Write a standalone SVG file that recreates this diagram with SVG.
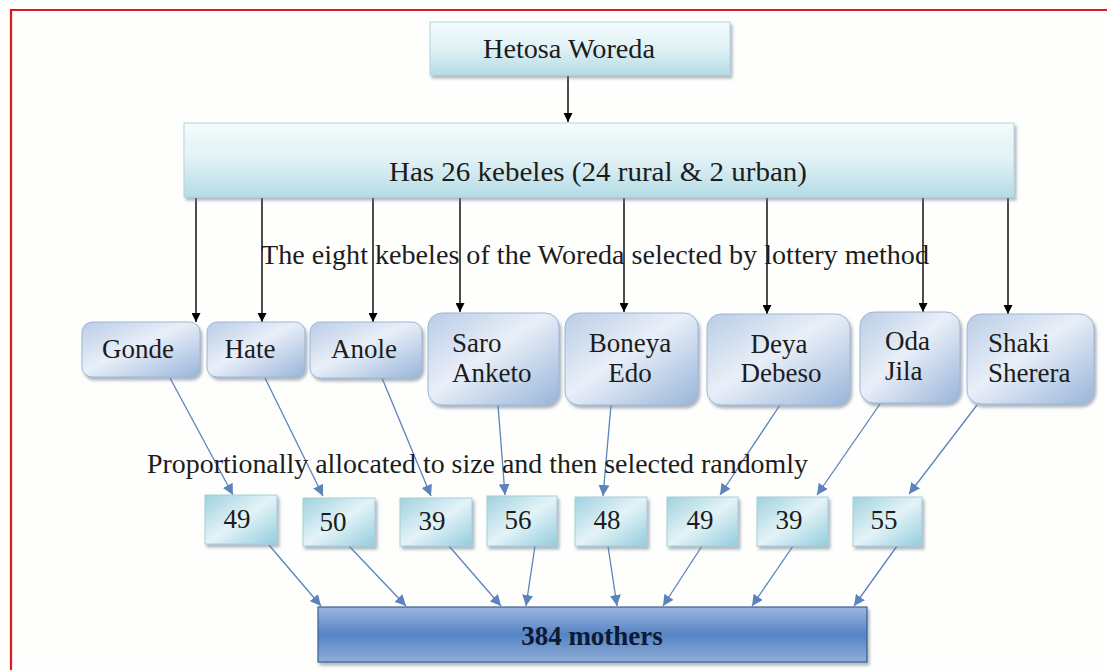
<svg xmlns="http://www.w3.org/2000/svg" width="1107" height="670" viewBox="0 0 1107 670">
<defs>
<style>
text{font-family:"Liberation Serif","Times New Roman",serif;font-size:27px;fill:#1c1c1c}
.c{text-anchor:middle}
.blk{stroke:#000;stroke-width:1.4;fill:none}
.blu{stroke:#5b83bd;stroke-width:1.3;fill:none}
.kb{fill:url(#gK);stroke:#9fb6d6;stroke-width:1;filter:url(#sh)}
.nb{fill:url(#gN);stroke:#a9cdd8;stroke-width:1;filter:url(#sh)}
.tb{fill:url(#gT);stroke:#b5d6df;stroke-width:1;filter:url(#sh)}
</style>
<linearGradient id="gT" x1="0" y1="0" x2="0" y2="1">
<stop offset="0" stop-color="#f4fbfc"/><stop offset="0.5" stop-color="#e0f1f5"/><stop offset="1" stop-color="#b4dce6"/>
</linearGradient>
<linearGradient id="gK" x1="0" y1="0" x2="1" y2="1">
<stop offset="0" stop-color="#b9cce6"/><stop offset="0.45" stop-color="#e9eff8"/><stop offset="1" stop-color="#98b5da"/>
</linearGradient>
<linearGradient id="gN" x1="0" y1="0" x2="1" y2="1">
<stop offset="0" stop-color="#9fd1df"/><stop offset="0.5" stop-color="#e4f3f7"/><stop offset="1" stop-color="#92cddd"/>
</linearGradient>
<linearGradient id="gM" x1="0" y1="0" x2="0" y2="1">
<stop offset="0" stop-color="#9ab6de"/><stop offset="0.5" stop-color="#5684c4"/><stop offset="1" stop-color="#8fadd9"/>
</linearGradient>
<filter id="sh" x="-10%" y="-10%" width="130%" height="140%">
<feDropShadow dx="2" dy="3" stdDeviation="1.5" flood-color="#6d7d92" flood-opacity="0.55"/>
</filter>
<marker id="aK" viewBox="0 0 10 10" refX="10" refY="5" markerWidth="9" markerHeight="9" markerUnits="userSpaceOnUse" orient="auto">
<path d="M0,0 L10,5 L0,10 z" fill="#000"/>
</marker>
<marker id="aB" viewBox="0 0 10 10" refX="10" refY="5" markerWidth="11" markerHeight="11" markerUnits="userSpaceOnUse" orient="auto">
<path d="M0,0 L10,5 L0,10 z" fill="#5b83bd"/>
</marker>
</defs>
<rect width="1107" height="670" fill="#fefefc"/>
<path d="M11,670 V10 H1107" stroke="#e3161c" stroke-width="2.2" fill="none"/>

<g id="connectors">
<line class="blk" x1="568" y1="76" x2="568" y2="122" marker-end="url(#aK)"/>
<line class="blk" x1="196" y1="198" x2="196" y2="322" marker-end="url(#aK)"/>
<line class="blk" x1="262" y1="198" x2="262" y2="322" marker-end="url(#aK)"/>
<line class="blk" x1="373" y1="198" x2="373" y2="322" marker-end="url(#aK)"/>
<line class="blk" x1="460" y1="198" x2="460" y2="312" marker-end="url(#aK)"/>
<line class="blk" x1="624" y1="198" x2="624" y2="312" marker-end="url(#aK)"/>
<line class="blk" x1="767" y1="198" x2="767" y2="314" marker-end="url(#aK)"/>
<line class="blk" x1="923" y1="198" x2="923" y2="312" marker-end="url(#aK)"/>
<line class="blk" x1="1008" y1="198" x2="1008" y2="314" marker-end="url(#aK)"/>

<line class="blu" x1="170" y1="378" x2="233" y2="495" marker-end="url(#aB)"/>
<line class="blu" x1="265" y1="378" x2="323" y2="496" marker-end="url(#aB)"/>
<line class="blu" x1="382" y1="378" x2="431" y2="496" marker-end="url(#aB)"/>
<line class="blu" x1="498" y1="405" x2="505" y2="495" marker-end="url(#aB)"/>
<line class="blu" x1="611" y1="405" x2="603" y2="496" marker-end="url(#aB)"/>
<line class="blu" x1="780" y1="405" x2="720" y2="495" marker-end="url(#aB)"/>
<line class="blu" x1="880" y1="404" x2="817" y2="495" marker-end="url(#aB)"/>
<line class="blu" x1="977" y1="405" x2="909" y2="494" marker-end="url(#aB)"/>

<line class="blu" x1="269" y1="545" x2="321" y2="606" marker-end="url(#aB)"/>
<line class="blu" x1="349" y1="546" x2="406" y2="606" marker-end="url(#aB)"/>
<line class="blu" x1="449" y1="546" x2="501" y2="606" marker-end="url(#aB)"/>
<line class="blu" x1="535" y1="546" x2="526" y2="606" marker-end="url(#aB)"/>
<line class="blu" x1="608" y1="546" x2="617" y2="606" marker-end="url(#aB)"/>
<line class="blu" x1="702" y1="546" x2="663" y2="606" marker-end="url(#aB)"/>
<line class="blu" x1="793" y1="546" x2="752" y2="606" marker-end="url(#aB)"/>
<line class="blu" x1="897" y1="546" x2="854" y2="606" marker-end="url(#aB)"/>
</g>

<g id="hetosa">
<rect class="tb" x="430" y="22" width="300" height="53"/>
<text class="c" x="569" y="58" textLength="172" lengthAdjust="spacingAndGlyphs">Hetosa Woreda</text>
</g>
<g id="kebeles">
<rect class="tb" x="184" y="123" width="830" height="74"/>
<text class="c" x="598" y="181" textLength="418" lengthAdjust="spacingAndGlyphs">Has 26 kebeles (24 rural &amp; 2 urban)</text>
</g>
<g id="label-lottery">
<text x="261" y="264" textLength="668" lengthAdjust="spacingAndGlyphs">The eight kebeles of the Woreda selected by lottery method</text>
</g>

<g id="gonde"><rect class="kb" x="82" y="322" width="118" height="55" rx="10"/><text class="c" x="138" y="358">Gonde</text></g>
<g id="hate"><rect class="kb" x="207" y="322" width="98" height="55" rx="10"/><text class="c" x="250" y="358">Hate</text></g>
<g id="anole"><rect class="kb" x="310" y="322" width="112" height="56" rx="10"/><text class="c" x="364" y="358">Anole</text></g>
<g id="saro"><rect class="kb" x="428" y="313" width="131" height="92" rx="14"/><text x="452" y="352">Saro</text><text x="452" y="382">Anketo</text></g>
<g id="boneya"><rect class="kb" x="565" y="313" width="133" height="92" rx="14"/><text class="c" x="630" y="352">Boneya</text><text class="c" x="630" y="382">Edo</text></g>
<g id="deya"><rect class="kb" x="707" y="314" width="143" height="91" rx="14"/><text class="c" x="779" y="353">Deya</text><text class="c" x="781" y="382">Debeso</text></g>
<g id="oda"><rect class="kb" x="860" y="312" width="100" height="91" rx="14"/><text x="885" y="350">Oda</text><text x="885" y="380">Jila</text></g>
<g id="shaki"><rect class="kb" x="967" y="314" width="127" height="90" rx="14"/><text x="988" y="352">Shaki</text><text x="988" y="382">Sherera</text></g>

<g id="label-proportional">
<text x="147" y="473" textLength="661" lengthAdjust="spacingAndGlyphs">Proportionally allocated to size and then selected randomly</text>
</g>

<g id="n1"><rect class="nb" x="205" y="495" width="72" height="49"/><text class="c" x="237" y="528">49</text></g>
<g id="n2"><rect class="nb" x="303" y="498" width="72" height="48"/><text class="c" x="333" y="531">50</text></g>
<g id="n3"><rect class="nb" x="400" y="498" width="72" height="48"/><text class="c" x="432" y="530">39</text></g>
<g id="n4"><rect class="nb" x="487" y="496" width="70" height="50"/><text class="c" x="518" y="529">56</text></g>
<g id="n5"><rect class="nb" x="575" y="497" width="72" height="49"/><text class="c" x="607" y="529">48</text></g>
<g id="n6"><rect class="nb" x="667" y="497" width="71" height="49"/><text class="c" x="700" y="529">49</text></g>
<g id="n7"><rect class="nb" x="757" y="497" width="71" height="49"/><text class="c" x="789" y="529">39</text></g>
<g id="n8"><rect class="nb" x="853" y="497" width="69" height="49"/><text class="c" x="884" y="529">55</text></g>

<g id="mothers">
<rect x="318" y="607" width="549" height="55" fill="url(#gM)" stroke="#3c5f92" stroke-width="1.2" filter="url(#sh)"/>
<text class="c" x="592" y="645" style="font-weight:bold;fill:#0d1a33">384 mothers</text>
</g>
</svg>
